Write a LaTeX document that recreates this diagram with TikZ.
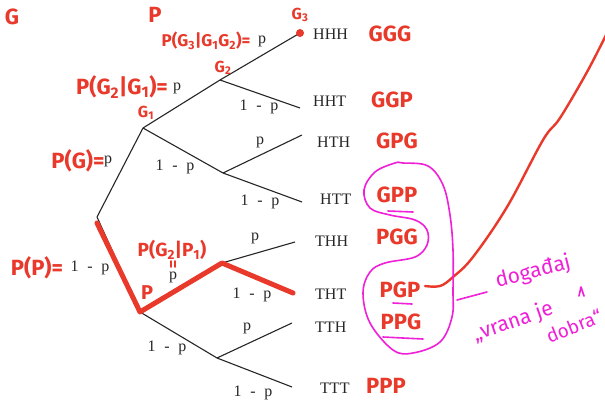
\documentclass[tikz,border=0pt]{standalone}
\usepackage{fontspec}
\setmainfont{Liberation Serif}
\newfontfamily\hand{Fira Sans}
\definecolor{pen}{HTML}{E8392B}
\definecolor{mag}{HTML}{F020D8}
\newcommand{\omp}{1\hspace{.55em}-\hspace{.55em}p}
\tikzset{
  branch/.style={draw=black!85, line width=1.1pt},
  lab/.style={font=\fontsize{16}{16}\selectfont, inner sep=0pt, text=black!85},
  outc/.style={font=\fontsize{16}{16}\selectfont, inner sep=0pt, anchor=west, text=black!85},
  hw/.style={text=pen, font=\hand\bfseries\fontsize{20}{20}\selectfont, inner sep=0pt},
  hwbig/.style={hw, font=\hand\bfseries\fontsize{22}{22}\selectfont},
  hwsmall/.style={hw, font=\hand\bfseries\fontsize{16}{16}\selectfont},
  hwm/.style={text=mag, font=\hand\fontsize{21}{21}\selectfont, inner sep=0pt},
  redpath/.style={draw=pen, line width=5pt, line cap=round, line join=round},
  redline/.style={draw=pen, line width=2.4pt, line cap=round},
  redthin/.style={draw=pen, line width=1.8pt, line cap=round},
  magline/.style={draw=mag, line width=1.6pt, line cap=round, line join=round},
}
\begin{document}
\begin{tikzpicture}[x=1pt,y=-1pt]
\useasboundingbox[fill=white] (0,0) rectangle (605,404);
% tree coordinates
\coordinate (r) at (97,217);
\coordinate (g1) at (143,128);
\coordinate (hh) at (220,80);
\coordinate (ht) at (223,173);
\coordinate (t) at (140,312);
\coordinate (th) at (222,263);
\coordinate (tt) at (217,358);
\coordinate (eHHH) at (300,33);
\coordinate (eHHT) at (300,108);
\coordinate (eHTH) at (302,135);
\coordinate (eHTT) at (302,202);
\coordinate (eTHH) at (295,242);
\coordinate (eTHT) at (293,293);
\coordinate (eTTH) at (292,323);
\coordinate (eTTT) at (292,387);
% branches
\draw[branch] (r) -- (g1);
\draw[branch] (g1) -- (hh);
\draw[branch] (hh) -- (eHHH);
\draw[branch] (hh) -- (eHHT);
\draw[branch] (g1) -- (ht);
\draw[branch] (ht) -- (eHTH);
\draw[branch] (ht) -- (eHTT);
\draw[branch] (r) -- (t);
\draw[branch] (t) -- (th);
\draw[branch] (th) -- (eTHH);
\draw[branch] (th) -- (eTHT);
\draw[branch] (t) -- (tt);
\draw[branch] (tt) -- (eTTH);
\draw[branch] (tt) -- (eTTT);
% outcomes
\node[outc] (oHHH) at (313,34) {HHH};
\node[outc] (oHHT) at (313,101) {HHT};
\node[outc] (oHTH) at (317,142) {HTH};
\node[outc] (oHTT) at (320,199) {HTT};
\node[outc] (oTHH) at (315,241) {THH};
\node[outc] (oTHT) at (315,294) {THT};
\node[outc] (oTTH) at (315,327) {TTH};
\node[outc] (oTTT) at (320,388) {TTT};
% branch labels
\node[lab] (l1) at (262,41) {p};
\node[lab] (l2) at (177,88) {p};
\node[lab] (l3) at (259,107) {\omp};
\node[lab] (l4) at (108,161) {p};
\node[lab] (l5) at (175,167) {\omp};
\node[lab] (l6) at (260,142) {p};
\node[lab] (l7) at (260,202) {\omp};
\node[lab] (l8) at (255,238) {p};
\node[lab] (l9) at (90,268) {\omp};
\node[lab] (l10) at (173,277) {p};
\node[lab] (l11) at (252,295) {\omp};
\node[lab] (l12) at (247,328) {p};
\node[lab] (l13) at (167,348) {\omp};
\node[lab] (l14) at (253,393) {\omp};
% red highlighted path
\draw[redpath] (97,223) -- (t) -- (th) -- (eTHT);
\fill[pen] (eHHH) circle (4);
% red handwriting
\node[hw, font=\hand\bfseries\fontsize{22}{22}\selectfont] (hG) at (12,17) {G};
\node[hw, font=\hand\bfseries\fontsize{22}{22}\selectfont] (hP) at (155,15) {P};
\node[hwsmall] (hG3) at (300,15) {G\textsubscript{3}};
\node[hw, font=\hand\bfseries\fontsize{17}{17}\selectfont] (hp3) at (206,41) {P(G\textsubscript{3}|G\textsubscript{1}G\textsubscript{2})=};
\node[hwsmall] (hG2) at (223,68) {G\textsubscript{2}};
\node[hwbig] (hp2) at (122,87) {P(G\textsubscript{2}|G\textsubscript{1})=};
\node[hwsmall] (hG1) at (146,113) {G\textsubscript{1}};
\node[hwbig] (hpg) at (78,161) {P(G)=};
\node[hwbig] (hpp) at (37,268) {P(P)=};
\node[hw, font=\hand\bfseries\fontsize{19}{19}\selectfont] (hpgp) at (172,250) {P(G\textsubscript{2}|P\textsubscript{1})};
% ditto marks
\draw[redthin] (171,261) -- (171,267);
\draw[redthin] (175,261) -- (175,267);
\node[hw] (hPl) at (147,293) {P};
\node[hwbig] (rGGG) at (390,34) {GGG};
\node[hwbig] (rGGP) at (392,100) {GGP};
\node[hwbig] (rGPG) at (397,141) {GPG};
\node[hwbig] (rGPP) at (397,195) {GPP};
\node[hwbig] (rPGG) at (397,237) {PGG};
\node[hwbig] (rPGP) at (400,290) {PGP};
\node[hwbig] (rPPG) at (401,322) {PPG};
\node[hwbig] (rPPP) at (386,386) {PPP};
% red long stroke
\draw[redline] plot[smooth, tension=0.6] coordinates {(425,286) (440,286) (453,277) (473,257) (507,207) (543,140) (560,118) (587,72) (607,33)};
% magenta loop
\draw[magline] plot[smooth cycle, tension=0.6] coordinates {(403,163) (428,166) (443,185) (450,215) (453,250) (453,290) (452,317) (440,342) (413,353) (393,350) (370,323) (363,293) (370,272) (385,263) (415,257) (427,245) (427,230) (415,220) (390,215) (370,208) (364,190) (375,172) (395,163)};
% magenta underlines
\draw[magline] (388,211) -- (413,212);
\draw[magline] (393,303) -- (412,304);
\draw[magline] (383,337) -- (423,339);
% magenta connector and note
\coordinate (mc) at (457,300);
\coordinate (md) at (487,292);
\draw[magline] (mc) -- (md);
\node[hwm, rotate=14] (n1) at (533,272) {događaj};
\node[hwm, rotate=19] (n2) at (513,322) {„vrana je};
\node[hwm, rotate=22, font=\hand\fontsize{19}{19}\selectfont] (n3) at (574,326) {dobra“};
\draw[magline] (579,296) -- (581,287) -- (584,296);
\end{tikzpicture}
\end{document}
